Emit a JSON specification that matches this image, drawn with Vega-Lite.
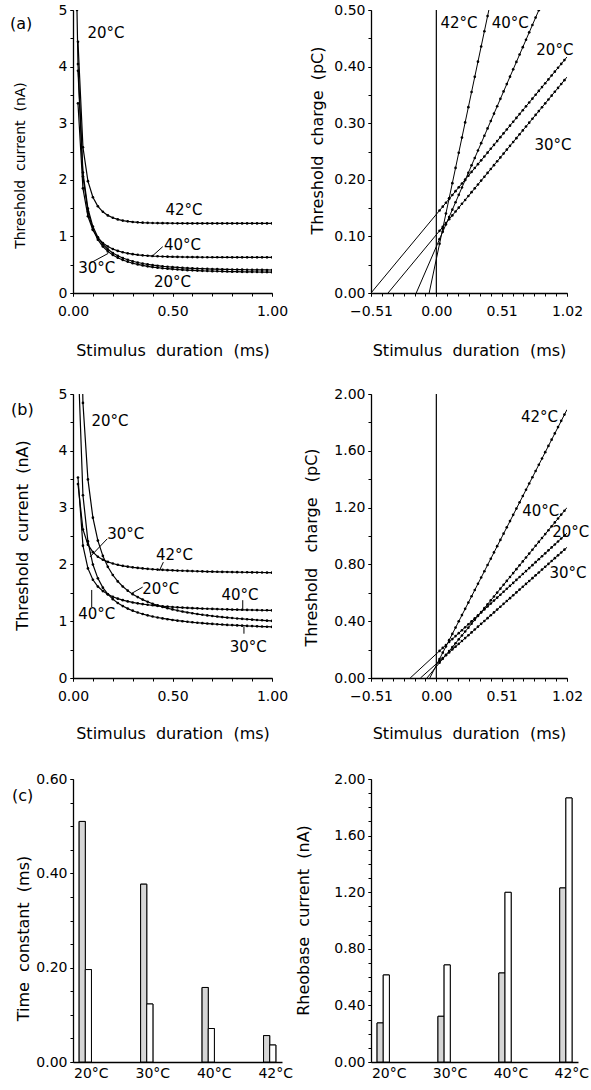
{
"$schema": "https://vega.github.io/schema/vega-lite/v6.json",
"padding": {"left": 10, "top": 3, "right": 0, "bottom": 0},
"background": "white",
"columns": 2,
"spacing": {"row": 101, "column": 89},
"bounds": "flush",
"config": {
  "font": "DejaVu Sans",
  "view": {"stroke": null},
  "axis": {"grid": false, "domainColor": "#000", "domainWidth": 1.3, "tickColor": "#000", "tickSize": 3, "tickWidth": 1, "labelColor": "#000", "labelFontSize": 14, "labelFont": "DejaVu Sans", "titleFont": "DejaVu Sans", "titleColor": "#000", "titleFontWeight": "normal", "titleFontSize": 16, "labelOverlap": false, "labelFlush": false, "labelPadding": 3, "titleBaseline": "middle"},
  "axisX": {"labelPadding": 8},
  "text": {"fontSize": 15, "color": "#000", "font": "DejaVu Sans"},
  "title": {"fontSize": 16, "fontWeight": "normal", "color": "#000", "anchor": "start", "frame": "bounds", "font": "DejaVu Sans", "offset": 0}
},
"datasets": {
"curvesA": [
{"T":"20","t":0.02,"v":5.0},
{"T":"20","t":0.025,"v":4.044},{"T":"20","t":0.05,"v":2.128},{"T":"20","t":0.075,"v":1.49},{"T":"20","t":0.1,"v":1.174},{"T":"20","t":0.125,"v":0.985},{"T":"20","t":0.15,"v":0.861},{"T":"20","t":0.175,"v":0.773},{"T":"20","t":0.2,"v":0.707},{"T":"20","t":0.225,"v":0.657},{"T":"20","t":0.25,"v":0.618},{"T":"20","t":0.275,"v":0.587},{"T":"20","t":0.3,"v":0.561},{"T":"20","t":0.325,"v":0.539},{"T":"20","t":0.35,"v":0.521},{"T":"20","t":0.375,"v":0.506},{"T":"20","t":0.4,"v":0.493},{"T":"20","t":0.425,"v":0.482},{"T":"20","t":0.45,"v":0.472},{"T":"20","t":0.475,"v":0.464},{"T":"20","t":0.5,"v":0.457},{"T":"20","t":0.525,"v":0.451},{"T":"20","t":0.55,"v":0.445},{"T":"20","t":0.575,"v":0.44},{"T":"20","t":0.6,"v":0.436},{"T":"20","t":0.625,"v":0.432},{"T":"20","t":0.65,"v":0.429},{"T":"20","t":0.675,"v":0.426},{"T":"20","t":0.7,"v":0.423},{"T":"20","t":0.725,"v":0.421},{"T":"20","t":0.75,"v":0.418},{"T":"20","t":0.775,"v":0.416},{"T":"20","t":0.8,"v":0.415},{"T":"20","t":0.825,"v":0.413},{"T":"20","t":0.85,"v":0.412},{"T":"20","t":0.875,"v":0.411},{"T":"20","t":0.9,"v":0.41},{"T":"20","t":0.925,"v":0.409},{"T":"20","t":0.95,"v":0.408},{"T":"20","t":0.975,"v":0.407},{"T":"20","t":1,"v":0.406},
{"T":"30","t":0.025,"v":3.926},{"T":"30","t":0.05,"v":2.058},{"T":"30","t":0.075,"v":1.437},{"T":"30","t":0.1,"v":1.127},{"T":"30","t":0.125,"v":0.943},{"T":"30","t":0.15,"v":0.821},{"T":"30","t":0.175,"v":0.735},{"T":"30","t":0.2,"v":0.671},{"T":"30","t":0.225,"v":0.622},{"T":"30","t":0.25,"v":0.583},{"T":"30","t":0.275,"v":0.552},{"T":"30","t":0.3,"v":0.526},{"T":"30","t":0.325,"v":0.505},{"T":"30","t":0.35,"v":0.487},{"T":"30","t":0.375,"v":0.471},{"T":"30","t":0.4,"v":0.458},{"T":"30","t":0.425,"v":0.447},{"T":"30","t":0.45,"v":0.437},{"T":"30","t":0.475,"v":0.429},{"T":"30","t":0.5,"v":0.422},{"T":"30","t":0.525,"v":0.415},{"T":"30","t":0.55,"v":0.409},{"T":"30","t":0.575,"v":0.404},{"T":"30","t":0.6,"v":0.4},{"T":"30","t":0.625,"v":0.396},{"T":"30","t":0.65,"v":0.392},{"T":"30","t":0.675,"v":0.389},{"T":"30","t":0.7,"v":0.386},{"T":"30","t":0.725,"v":0.384},{"T":"30","t":0.75,"v":0.381},{"T":"30","t":0.775,"v":0.379},{"T":"30","t":0.8,"v":0.377},{"T":"30","t":0.825,"v":0.376},{"T":"30","t":0.85,"v":0.374},{"T":"30","t":0.875,"v":0.373},{"T":"30","t":0.9,"v":0.372},{"T":"30","t":0.925,"v":0.371},{"T":"30","t":0.95,"v":0.37},{"T":"30","t":0.975,"v":0.369},{"T":"30","t":1,"v":0.368},
{"T":"40","t":0.025,"v":3.351},{"T":"40","t":0.05,"v":1.849},{"T":"40","t":0.075,"v":1.356},{"T":"40","t":0.1,"v":1.114},{"T":"40","t":0.125,"v":0.974},{"T":"40","t":0.15,"v":0.883},{"T":"40","t":0.175,"v":0.821},{"T":"40","t":0.2,"v":0.777},{"T":"40","t":0.225,"v":0.744},{"T":"40","t":0.25,"v":0.72},{"T":"40","t":0.275,"v":0.701},{"T":"40","t":0.3,"v":0.686},{"T":"40","t":0.325,"v":0.675},{"T":"40","t":0.35,"v":0.666},{"T":"40","t":0.375,"v":0.659},{"T":"40","t":0.4,"v":0.653},{"T":"40","t":0.425,"v":0.649},{"T":"40","t":0.45,"v":0.645},{"T":"40","t":0.475,"v":0.642},{"T":"40","t":0.5,"v":0.64},{"T":"40","t":0.525,"v":0.638},{"T":"40","t":0.55,"v":0.636},{"T":"40","t":0.575,"v":0.635},{"T":"40","t":0.6,"v":0.634},{"T":"40","t":0.625,"v":0.633},{"T":"40","t":0.65,"v":0.632},{"T":"40","t":0.675,"v":0.632},{"T":"40","t":0.7,"v":0.631},{"T":"40","t":0.725,"v":0.631},{"T":"40","t":0.75,"v":0.631},{"T":"40","t":0.775,"v":0.631},{"T":"40","t":0.8,"v":0.63},{"T":"40","t":0.825,"v":0.63},{"T":"40","t":0.85,"v":0.63},{"T":"40","t":0.875,"v":0.63},{"T":"40","t":0.9,"v":0.63},{"T":"40","t":0.925,"v":0.63},{"T":"40","t":0.95,"v":0.63},{"T":"40","t":0.975,"v":0.63},{"T":"40","t":1,"v":0.63},
{"T":"42","t":0.025,"v":4.437},{"T":"42","t":0.05,"v":2.575},{"T":"42","t":0.075,"v":1.976},{"T":"42","t":0.1,"v":1.692},{"T":"42","t":0.125,"v":1.532},{"T":"42","t":0.15,"v":1.435},{"T":"42","t":0.175,"v":1.371},{"T":"42","t":0.2,"v":1.329},{"T":"42","t":0.225,"v":1.3},{"T":"42","t":0.25,"v":1.28},{"T":"42","t":0.275,"v":1.266},{"T":"42","t":0.3,"v":1.255},{"T":"42","t":0.325,"v":1.248},{"T":"42","t":0.35,"v":1.243},{"T":"42","t":0.375,"v":1.24},{"T":"42","t":0.4,"v":1.237},{"T":"42","t":0.425,"v":1.235},{"T":"42","t":0.45,"v":1.234},{"T":"42","t":0.475,"v":1.233},{"T":"42","t":0.5,"v":1.232},{"T":"42","t":0.525,"v":1.231},{"T":"42","t":0.55,"v":1.231},{"T":"42","t":0.575,"v":1.23},{"T":"42","t":0.6,"v":1.23},{"T":"42","t":0.625,"v":1.23},{"T":"42","t":0.65,"v":1.23},{"T":"42","t":0.675,"v":1.23},{"T":"42","t":0.7,"v":1.23},{"T":"42","t":0.725,"v":1.23},{"T":"42","t":0.75,"v":1.23},{"T":"42","t":0.775,"v":1.23},{"T":"42","t":0.8,"v":1.23},{"T":"42","t":0.825,"v":1.23},{"T":"42","t":0.85,"v":1.23},{"T":"42","t":0.875,"v":1.23},{"T":"42","t":0.9,"v":1.23},{"T":"42","t":0.925,"v":1.23},{"T":"42","t":0.95,"v":1.23},{"T":"42","t":0.975,"v":1.23},{"T":"42","t":1,"v":1.23}
],
"curvesB": [
{"T":"20","t":0.025,"v":8.883},{"T":"20","t":0.05,"v":4.843},{"T":"20","t":0.075,"v":3.496},{"T":"20","t":0.1,"v":2.823},{"T":"20","t":0.125,"v":2.419},{"T":"20","t":0.15,"v":2.15},{"T":"20","t":0.175,"v":1.957},{"T":"20","t":0.2,"v":1.813},{"T":"20","t":0.225,"v":1.701},{"T":"20","t":0.25,"v":1.611},{"T":"20","t":0.275,"v":1.538},{"T":"20","t":0.3,"v":1.476},{"T":"20","t":0.325,"v":1.425},{"T":"20","t":0.35,"v":1.38},{"T":"20","t":0.375,"v":1.342},{"T":"20","t":0.4,"v":1.308},{"T":"20","t":0.425,"v":1.278},{"T":"20","t":0.45,"v":1.252},{"T":"20","t":0.475,"v":1.228},{"T":"20","t":0.5,"v":1.207},{"T":"20","t":0.525,"v":1.188},{"T":"20","t":0.55,"v":1.17},{"T":"20","t":0.575,"v":1.154},{"T":"20","t":0.6,"v":1.14},{"T":"20","t":0.625,"v":1.126},{"T":"20","t":0.65,"v":1.114},{"T":"20","t":0.675,"v":1.102},{"T":"20","t":0.7,"v":1.092},{"T":"20","t":0.725,"v":1.082},{"T":"20","t":0.75,"v":1.072},{"T":"20","t":0.775,"v":1.064},{"T":"20","t":0.8,"v":1.056},{"T":"20","t":0.825,"v":1.048},{"T":"20","t":0.85,"v":1.041},{"T":"20","t":0.875,"v":1.034},{"T":"20","t":0.9,"v":1.027},{"T":"20","t":0.925,"v":1.021},{"T":"20","t":0.95,"v":1.016},{"T":"20","t":0.975,"v":1.01},{"T":"20","t":1,"v":1.005},
{"T":"30","t":0.025,"v":5.658},{"T":"30","t":0.05,"v":3.218},{"T":"30","t":0.075,"v":2.405},{"T":"30","t":0.1,"v":1.998},{"T":"30","t":0.125,"v":1.754},{"T":"30","t":0.15,"v":1.591},{"T":"30","t":0.175,"v":1.475},{"T":"30","t":0.2,"v":1.388},{"T":"30","t":0.225,"v":1.32},{"T":"30","t":0.25,"v":1.266},{"T":"30","t":0.275,"v":1.222},{"T":"30","t":0.3,"v":1.185},{"T":"30","t":0.325,"v":1.153},{"T":"30","t":0.35,"v":1.127},{"T":"30","t":0.375,"v":1.103},{"T":"30","t":0.4,"v":1.083},{"T":"30","t":0.425,"v":1.065},{"T":"30","t":0.45,"v":1.049},{"T":"30","t":0.475,"v":1.035},{"T":"30","t":0.5,"v":1.022},{"T":"30","t":0.525,"v":1.01},{"T":"30","t":0.55,"v":1.0},{"T":"30","t":0.575,"v":0.99},{"T":"30","t":0.6,"v":0.981},{"T":"30","t":0.625,"v":0.973},{"T":"30","t":0.65,"v":0.966},{"T":"30","t":0.675,"v":0.959},{"T":"30","t":0.7,"v":0.952},{"T":"30","t":0.725,"v":0.946},{"T":"30","t":0.75,"v":0.941},{"T":"30","t":0.775,"v":0.935},{"T":"30","t":0.8,"v":0.931},{"T":"30","t":0.825,"v":0.926},{"T":"30","t":0.85,"v":0.922},{"T":"30","t":0.875,"v":0.917},{"T":"30","t":0.9,"v":0.914},{"T":"30","t":0.925,"v":0.91},{"T":"30","t":0.95,"v":0.906},{"T":"30","t":0.975,"v":0.903},{"T":"30","t":1,"v":0.9},
{"T":"40","t":0.025,"v":3.53},{"T":"40","t":0.05,"v":2.33},{"T":"40","t":0.075,"v":1.93},{"T":"40","t":0.1,"v":1.73},{"T":"40","t":0.125,"v":1.61},{"T":"40","t":0.15,"v":1.53},{"T":"40","t":0.175,"v":1.473},{"T":"40","t":0.2,"v":1.43},{"T":"40","t":0.225,"v":1.397},{"T":"40","t":0.25,"v":1.37},{"T":"40","t":0.275,"v":1.348},{"T":"40","t":0.3,"v":1.33},{"T":"40","t":0.325,"v":1.315},{"T":"40","t":0.35,"v":1.301},{"T":"40","t":0.375,"v":1.29},{"T":"40","t":0.4,"v":1.28},{"T":"40","t":0.425,"v":1.271},{"T":"40","t":0.45,"v":1.263},{"T":"40","t":0.475,"v":1.256},{"T":"40","t":0.5,"v":1.25},{"T":"40","t":0.525,"v":1.244},{"T":"40","t":0.55,"v":1.239},{"T":"40","t":0.575,"v":1.234},{"T":"40","t":0.6,"v":1.23},{"T":"40","t":0.625,"v":1.226},{"T":"40","t":0.65,"v":1.222},{"T":"40","t":0.675,"v":1.219},{"T":"40","t":0.7,"v":1.216},{"T":"40","t":0.725,"v":1.213},{"T":"40","t":0.75,"v":1.21},{"T":"40","t":0.775,"v":1.207},{"T":"40","t":0.8,"v":1.205},{"T":"40","t":0.825,"v":1.203},{"T":"40","t":0.85,"v":1.201},{"T":"40","t":0.875,"v":1.199},{"T":"40","t":0.9,"v":1.197},{"T":"40","t":0.925,"v":1.195},{"T":"40","t":0.95,"v":1.193},{"T":"40","t":0.975,"v":1.192},{"T":"40","t":1,"v":1.19},
{"T":"42","t":0.025,"v":3.415},{"T":"42","t":0.05,"v":2.615},{"T":"42","t":0.075,"v":2.348},{"T":"42","t":0.1,"v":2.215},{"T":"42","t":0.125,"v":2.135},{"T":"42","t":0.15,"v":2.082},{"T":"42","t":0.175,"v":2.044},{"T":"42","t":0.2,"v":2.015},{"T":"42","t":0.225,"v":1.993},{"T":"42","t":0.25,"v":1.975},{"T":"42","t":0.275,"v":1.96},{"T":"42","t":0.3,"v":1.948},{"T":"42","t":0.325,"v":1.938},{"T":"42","t":0.35,"v":1.929},{"T":"42","t":0.375,"v":1.922},{"T":"42","t":0.4,"v":1.915},{"T":"42","t":0.425,"v":1.909},{"T":"42","t":0.45,"v":1.904},{"T":"42","t":0.475,"v":1.899},{"T":"42","t":0.5,"v":1.895},{"T":"42","t":0.525,"v":1.891},{"T":"42","t":0.55,"v":1.888},{"T":"42","t":0.575,"v":1.885},{"T":"42","t":0.6,"v":1.882},{"T":"42","t":0.625,"v":1.879},{"T":"42","t":0.65,"v":1.877},{"T":"42","t":0.675,"v":1.874},{"T":"42","t":0.7,"v":1.872},{"T":"42","t":0.725,"v":1.87},{"T":"42","t":0.75,"v":1.868},{"T":"42","t":0.775,"v":1.867},{"T":"42","t":0.8,"v":1.865},{"T":"42","t":0.825,"v":1.863},{"T":"42","t":0.85,"v":1.862},{"T":"42","t":0.875,"v":1.861},{"T":"42","t":0.9,"v":1.859},{"T":"42","t":0.925,"v":1.858},{"T":"42","t":0.95,"v":1.857},{"T":"42","t":0.975,"v":1.856},{"T":"42","t":1,"v":1.855}
],
"dotsQA": [
{"T":"20","t":0.025,"v":0.1458},{"T":"20","t":0.05,"v":0.1526},{"T":"20","t":0.075,"v":0.1594},{"T":"20","t":0.1,"v":0.1663},{"T":"20","t":0.125,"v":0.1731},{"T":"20","t":0.15,"v":0.1799},{"T":"20","t":0.175,"v":0.1867},{"T":"20","t":0.2,"v":0.1935},{"T":"20","t":0.225,"v":0.2003},{"T":"20","t":0.25,"v":0.2071},{"T":"20","t":0.275,"v":0.2139},{"T":"20","t":0.3,"v":0.2208},{"T":"20","t":0.325,"v":0.2276},{"T":"20","t":0.35,"v":0.2344},{"T":"20","t":0.375,"v":0.2412},{"T":"20","t":0.4,"v":0.248},{"T":"20","t":0.425,"v":0.2548},{"T":"20","t":0.45,"v":0.2616},{"T":"20","t":0.475,"v":0.2684},{"T":"20","t":0.5,"v":0.2753},{"T":"20","t":0.525,"v":0.2821},{"T":"20","t":0.55,"v":0.2889},{"T":"20","t":0.575,"v":0.2957},{"T":"20","t":0.6,"v":0.3025},{"T":"20","t":0.625,"v":0.3093},{"T":"20","t":0.65,"v":0.3161},{"T":"20","t":0.675,"v":0.3229},{"T":"20","t":0.7,"v":0.3298},{"T":"20","t":0.725,"v":0.3366},{"T":"20","t":0.75,"v":0.3434},{"T":"20","t":0.775,"v":0.3502},{"T":"20","t":0.8,"v":0.357},{"T":"20","t":0.825,"v":0.3638},{"T":"20","t":0.85,"v":0.3706},{"T":"20","t":0.875,"v":0.3774},{"T":"20","t":0.9,"v":0.3843},{"T":"20","t":0.925,"v":0.3911},{"T":"20","t":0.95,"v":0.3979},{"T":"20","t":0.975,"v":0.4047},{"T":"20","t":1,"v":0.4115},
{"T":"30","t":0.025,"v":0.1098},{"T":"30","t":0.05,"v":0.1167},{"T":"30","t":0.075,"v":0.1235},{"T":"30","t":0.1,"v":0.1303},{"T":"30","t":0.125,"v":0.1371},{"T":"30","t":0.15,"v":0.144},{"T":"30","t":0.175,"v":0.1508},{"T":"30","t":0.2,"v":0.1576},{"T":"30","t":0.225,"v":0.1644},{"T":"30","t":0.25,"v":0.1713},{"T":"30","t":0.275,"v":0.1781},{"T":"30","t":0.3,"v":0.1849},{"T":"30","t":0.325,"v":0.1917},{"T":"30","t":0.35,"v":0.1986},{"T":"30","t":0.375,"v":0.2054},{"T":"30","t":0.4,"v":0.2122},{"T":"30","t":0.425,"v":0.219},{"T":"30","t":0.45,"v":0.2259},{"T":"30","t":0.475,"v":0.2327},{"T":"30","t":0.5,"v":0.2395},{"T":"30","t":0.525,"v":0.2463},{"T":"30","t":0.55,"v":0.2532},{"T":"30","t":0.575,"v":0.26},{"T":"30","t":0.6,"v":0.2668},{"T":"30","t":0.625,"v":0.2736},{"T":"30","t":0.65,"v":0.2805},{"T":"30","t":0.675,"v":0.2873},{"T":"30","t":0.7,"v":0.2941},{"T":"30","t":0.725,"v":0.3009},{"T":"30","t":0.75,"v":0.3078},{"T":"30","t":0.775,"v":0.3146},{"T":"30","t":0.8,"v":0.3214},{"T":"30","t":0.825,"v":0.3282},{"T":"30","t":0.85,"v":0.3351},{"T":"30","t":0.875,"v":0.3419},{"T":"30","t":0.9,"v":0.3487},{"T":"30","t":0.925,"v":0.3555},{"T":"30","t":0.95,"v":0.3624},{"T":"30","t":0.975,"v":0.3692},{"T":"30","t":1,"v":0.376},
{"T":"40","t":0.025,"v":0.0951},{"T":"40","t":0.05,"v":0.1081},{"T":"40","t":0.075,"v":0.1212},{"T":"40","t":0.1,"v":0.1342},{"T":"40","t":0.125,"v":0.1473},{"T":"40","t":0.15,"v":0.1603},{"T":"40","t":0.175,"v":0.1734},{"T":"40","t":0.2,"v":0.1864},{"T":"40","t":0.225,"v":0.1995},{"T":"40","t":0.25,"v":0.2125},{"T":"40","t":0.275,"v":0.2256},{"T":"40","t":0.3,"v":0.2386},{"T":"40","t":0.325,"v":0.2517},{"T":"40","t":0.35,"v":0.2647},{"T":"40","t":0.375,"v":0.2778},{"T":"40","t":0.4,"v":0.2908},{"T":"40","t":0.425,"v":0.3039},{"T":"40","t":0.45,"v":0.3169},{"T":"40","t":0.475,"v":0.33},{"T":"40","t":0.5,"v":0.343},{"T":"40","t":0.525,"v":0.3561},{"T":"40","t":0.55,"v":0.3691},{"T":"40","t":0.575,"v":0.3822},{"T":"40","t":0.6,"v":0.3952},{"T":"40","t":0.625,"v":0.4083},{"T":"40","t":0.65,"v":0.4213},{"T":"40","t":0.675,"v":0.4344},{"T":"40","t":0.7,"v":0.4474},{"T":"40","t":0.725,"v":0.4605},{"T":"40","t":0.75,"v":0.4735},{"T":"40","t":0.775,"v":0.4866},{"T":"40","t":0.8,"v":0.4996},
{"T":"42","t":0.025,"v":0.0868},{"T":"42","t":0.05,"v":0.1137},{"T":"42","t":0.075,"v":0.1405},{"T":"42","t":0.1,"v":0.1673},{"T":"42","t":0.125,"v":0.1941},{"T":"42","t":0.15,"v":0.221},{"T":"42","t":0.175,"v":0.2478},{"T":"42","t":0.2,"v":0.2746},{"T":"42","t":0.225,"v":0.3014},{"T":"42","t":0.25,"v":0.3283},{"T":"42","t":0.275,"v":0.3551},{"T":"42","t":0.3,"v":0.3819},{"T":"42","t":0.325,"v":0.4087},{"T":"42","t":0.35,"v":0.4356},{"T":"42","t":0.375,"v":0.4624},{"T":"42","t":0.4,"v":0.4892}
],
"linesQA": [
{"T":"20","t":-0.51,"v":0},{"T":"20","t":1.02,"v":0.417},
{"T":"30","t":-0.377,"v":0},{"T":"30","t":1.02,"v":0.3815},
{"T":"40","t":-0.157,"v":0},{"T":"40","t":0.83,"v":0.5153},
{"T":"42","t":-0.056,"v":0},{"T":"42","t":0.42,"v":0.5107}
],
"dotsQB": [
{"T":"20","t":0.025,"v":0.1908},{"T":"20","t":0.05,"v":0.2117},{"T":"20","t":0.075,"v":0.2325},{"T":"20","t":0.1,"v":0.2533},{"T":"20","t":0.125,"v":0.2741},{"T":"20","t":0.15,"v":0.295},{"T":"20","t":0.175,"v":0.3158},{"T":"20","t":0.2,"v":0.3366},{"T":"20","t":0.225,"v":0.3574},{"T":"20","t":0.25,"v":0.3783},{"T":"20","t":0.275,"v":0.3991},{"T":"20","t":0.3,"v":0.4199},{"T":"20","t":0.325,"v":0.4407},{"T":"20","t":0.35,"v":0.4616},{"T":"20","t":0.375,"v":0.4824},{"T":"20","t":0.4,"v":0.5032},{"T":"20","t":0.425,"v":0.524},{"T":"20","t":0.45,"v":0.5449},{"T":"20","t":0.475,"v":0.5657},{"T":"20","t":0.5,"v":0.5865},{"T":"20","t":0.525,"v":0.6073},{"T":"20","t":0.55,"v":0.6282},{"T":"20","t":0.575,"v":0.649},{"T":"20","t":0.6,"v":0.6698},{"T":"20","t":0.625,"v":0.6906},{"T":"20","t":0.65,"v":0.7115},{"T":"20","t":0.675,"v":0.7323},{"T":"20","t":0.7,"v":0.7531},{"T":"20","t":0.725,"v":0.7739},{"T":"20","t":0.75,"v":0.7948},{"T":"20","t":0.775,"v":0.8156},{"T":"20","t":0.8,"v":0.8364},{"T":"20","t":0.825,"v":0.8572},{"T":"20","t":0.85,"v":0.8781},{"T":"20","t":0.875,"v":0.8989},{"T":"20","t":0.9,"v":0.9197},{"T":"20","t":0.925,"v":0.9405},{"T":"20","t":0.95,"v":0.9614},{"T":"20","t":0.975,"v":0.9822},{"T":"20","t":1,"v":1.003},
{"T":"30","t":0.025,"v":0.1201},{"T":"30","t":0.05,"v":0.1402},{"T":"30","t":0.075,"v":0.1603},{"T":"30","t":0.1,"v":0.1804},{"T":"30","t":0.125,"v":0.2005},{"T":"30","t":0.15,"v":0.2206},{"T":"30","t":0.175,"v":0.2407},{"T":"30","t":0.2,"v":0.2608},{"T":"30","t":0.225,"v":0.2809},{"T":"30","t":0.25,"v":0.301},{"T":"30","t":0.275,"v":0.3211},{"T":"30","t":0.3,"v":0.3412},{"T":"30","t":0.325,"v":0.3613},{"T":"30","t":0.35,"v":0.3814},{"T":"30","t":0.375,"v":0.4015},{"T":"30","t":0.4,"v":0.4216},{"T":"30","t":0.425,"v":0.4417},{"T":"30","t":0.45,"v":0.4618},{"T":"30","t":0.475,"v":0.4819},{"T":"30","t":0.5,"v":0.502},{"T":"30","t":0.525,"v":0.5221},{"T":"30","t":0.55,"v":0.5422},{"T":"30","t":0.575,"v":0.5623},{"T":"30","t":0.6,"v":0.5824},{"T":"30","t":0.625,"v":0.6025},{"T":"30","t":0.65,"v":0.6226},{"T":"30","t":0.675,"v":0.6427},{"T":"30","t":0.7,"v":0.6628},{"T":"30","t":0.725,"v":0.6829},{"T":"30","t":0.75,"v":0.703},{"T":"30","t":0.775,"v":0.7231},{"T":"30","t":0.8,"v":0.7432},{"T":"30","t":0.825,"v":0.7633},{"T":"30","t":0.85,"v":0.7834},{"T":"30","t":0.875,"v":0.8035},{"T":"30","t":0.9,"v":0.8236},{"T":"30","t":0.925,"v":0.8437},{"T":"30","t":0.95,"v":0.8638},{"T":"30","t":0.975,"v":0.8839},{"T":"30","t":1,"v":0.904},
{"T":"40","t":0.025,"v":0.1075},{"T":"40","t":0.05,"v":0.1349},{"T":"40","t":0.075,"v":0.1624},{"T":"40","t":0.1,"v":0.1898},{"T":"40","t":0.125,"v":0.2173},{"T":"40","t":0.15,"v":0.2447},{"T":"40","t":0.175,"v":0.2722},{"T":"40","t":0.2,"v":0.2996},{"T":"40","t":0.225,"v":0.3271},{"T":"40","t":0.25,"v":0.3545},{"T":"40","t":0.275,"v":0.382},{"T":"40","t":0.3,"v":0.4094},{"T":"40","t":0.325,"v":0.4369},{"T":"40","t":0.35,"v":0.4643},{"T":"40","t":0.375,"v":0.4918},{"T":"40","t":0.4,"v":0.5192},{"T":"40","t":0.425,"v":0.5467},{"T":"40","t":0.45,"v":0.5741},{"T":"40","t":0.475,"v":0.6016},{"T":"40","t":0.5,"v":0.629},{"T":"40","t":0.525,"v":0.6565},{"T":"40","t":0.55,"v":0.6839},{"T":"40","t":0.575,"v":0.7114},{"T":"40","t":0.6,"v":0.7388},{"T":"40","t":0.625,"v":0.7663},{"T":"40","t":0.65,"v":0.7937},{"T":"40","t":0.675,"v":0.8212},{"T":"40","t":0.7,"v":0.8486},{"T":"40","t":0.725,"v":0.8761},{"T":"40","t":0.75,"v":0.9035},{"T":"40","t":0.775,"v":0.931},{"T":"40","t":0.8,"v":0.9584},{"T":"40","t":0.825,"v":0.9859},{"T":"40","t":0.85,"v":1.0133},{"T":"40","t":0.875,"v":1.0408},{"T":"40","t":0.9,"v":1.0682},{"T":"40","t":0.925,"v":1.0957},{"T":"40","t":0.95,"v":1.1231},{"T":"40","t":0.975,"v":1.1506},{"T":"40","t":1,"v":1.178},
{"T":"42","t":0.025,"v":0.1341},{"T":"42","t":0.05,"v":0.1783},{"T":"42","t":0.075,"v":0.2224},{"T":"42","t":0.1,"v":0.2665},{"T":"42","t":0.125,"v":0.3106},{"T":"42","t":0.15,"v":0.3548},{"T":"42","t":0.175,"v":0.3989},{"T":"42","t":0.2,"v":0.443},{"T":"42","t":0.225,"v":0.4871},{"T":"42","t":0.25,"v":0.5313},{"T":"42","t":0.275,"v":0.5754},{"T":"42","t":0.3,"v":0.6195},{"T":"42","t":0.325,"v":0.6636},{"T":"42","t":0.35,"v":0.7078},{"T":"42","t":0.375,"v":0.7519},{"T":"42","t":0.4,"v":0.796},{"T":"42","t":0.425,"v":0.8401},{"T":"42","t":0.45,"v":0.8843},{"T":"42","t":0.475,"v":0.9284},{"T":"42","t":0.5,"v":0.9725},{"T":"42","t":0.525,"v":1.0166},{"T":"42","t":0.55,"v":1.0608},{"T":"42","t":0.575,"v":1.1049},{"T":"42","t":0.6,"v":1.149},{"T":"42","t":0.625,"v":1.1931},{"T":"42","t":0.65,"v":1.2373},{"T":"42","t":0.675,"v":1.2814},{"T":"42","t":0.7,"v":1.3255},{"T":"42","t":0.725,"v":1.3696},{"T":"42","t":0.75,"v":1.4138},{"T":"42","t":0.775,"v":1.4579},{"T":"42","t":0.8,"v":1.502},{"T":"42","t":0.825,"v":1.5461},{"T":"42","t":0.85,"v":1.5903},{"T":"42","t":0.875,"v":1.6344},{"T":"42","t":0.9,"v":1.6785},{"T":"42","t":0.925,"v":1.7226},{"T":"42","t":0.95,"v":1.7668},{"T":"42","t":0.975,"v":1.8109},{"T":"42","t":1,"v":1.855}
],
"linesQB": [
{"T":"20","t":-0.204,"v":0},{"T":"20","t":1.02,"v":1.0197},
{"T":"30","t":-0.124,"v":0},{"T":"30","t":1.02,"v":0.92},
{"T":"40","t":-0.073,"v":0},{"T":"40","t":1.02,"v":1.2},
{"T":"42","t":-0.051,"v":0},{"T":"42","t":1.02,"v":1.89}
],
"labA": [
{"label":"20°C","t":0.166,"v":4.59},{"label":"42°C","t":0.558,"v":1.47},{"label":"40°C","t":0.55,"v":0.85},{"label":"30°C","t":0.119,"v":0.44},{"label":"20°C","t":0.5,"v":0.19}
],
"leadA": [
{"t":0.451,"v":0.818,"t2":0.395,"v2":0.642},{"t":0.085,"v":0.525,"t2":0.177,"v2":0.7}
],
"labB": [
{"label":"20°C","t":0.186,"v":4.53},{"label":"30°C","t":0.265,"v":2.54},{"label":"42°C","t":0.51,"v":2.16},{"label":"20°C","t":0.441,"v":1.57},{"label":"40°C","t":0.839,"v":1.46},{"label":"40°C","t":0.119,"v":1.135},{"label":"30°C","t":0.881,"v":0.55}
],
"leadB": [
{"t":0.172,"v":2.45,"t2":0.085,"v2":2.13},{"t":0.454,"v":2.04,"t2":0.434,"v2":1.89},{"t":0.35,"v":1.6,"t2":0.295,"v2":1.49},{"t":0.853,"v":1.37,"t2":0.853,"v2":1.21},{"t":0.094,"v":1.25,"t2":0.094,"v2":1.55},{"t":0.859,"v":0.78,"t2":0.859,"v2":0.9}
],
"labQA": [
{"label":"42°C","t":0.177,"v":0.4775},{"label":"40°C","t":0.577,"v":0.4775},{"label":"20°C","t":0.925,"v":0.429},{"label":"30°C","t":0.911,"v":0.261}
],
"labQB": [
{"label":"42°C","t":0.805,"v":1.84},{"label":"40°C","t":0.815,"v":1.173},{"label":"20°C","t":1.049,"v":1.03},{"label":"30°C","t":1.028,"v":0.74}
],
"bars": [
{"T":"20°C","g":"a","tau":0.51,"rh":0.276},{"T":"20°C","g":"b","tau":0.196,"rh":0.615},
{"T":"30°C","g":"a","tau":0.377,"rh":0.323},{"T":"30°C","g":"b","tau":0.123,"rh":0.686},
{"T":"40°C","g":"a","tau":0.158,"rh":0.629},{"T":"40°C","g":"b","tau":0.071,"rh":1.199},
{"T":"42°C","g":"a","tau":0.056,"rh":1.23},{"T":"42°C","g":"b","tau":0.036,"rh":1.866}
],
"zero": [{"t":0}]
},
"concat": [
{
 "width": 199, "height": 283,
 "title": {"text": "(a)", "dx": -3, "dy": 33},
 "resolve": {"axis": {"x": "independent", "y": "independent"}},
 "layer": [
  {"data": {"name": "curvesA"}, "mark": {"type": "line", "color": "#000", "strokeWidth": 1.2, "clip": true},
   "encoding": {
    "x": {"field": "t", "type": "quantitative", "scale": {"domain": [0, 1], "nice": false, "zero": false},
          "axis": {"orient": "bottom", "title": "Stimulus\u00a0\u00a0duration\u00a0\u00a0(ms)", "values": [0, 0.5, 1], "format": ".2f", "titleY": 57}},
    "y": {"field": "v", "type": "quantitative", "scale": {"domain": [0, 5], "nice": false},
          "axis": {"orient": "left", "title": "Threshold\u00a0\u00a0current\u00a0\u00a0(nA)", "titleFontSize": 14, "values": [0,1,2,3,4,5], "format": "d", "titleX": -53, "titleY": 155}},
    "detail": {"field": "T"}}},
  {"data": {"name": "curvesA"}, "mark": {"type": "circle", "color": "#000", "size": 7, "opacity": 1, "clip": true},
   "encoding": {"x": {"field": "t", "type": "quantitative", "scale": {"domain": [0, 1], "nice": false, "zero": false}, "axis": {"orient": "bottom", "values": [0,0.1,0.2,0.3,0.4,0.5,0.6,0.7,0.8,0.9,1], "labels": false, "domain": false, "title": null}},
                "y": {"field": "v", "type": "quantitative", "scale": {"domain": [0, 5], "nice": false}, "axis": {"orient": "left", "values": [0,0.5,1,1.5,2,2.5,3,3.5,4,4.5,5], "labels": false, "domain": false, "title": null}}}},
  {"data": {"name": "leadA"}, "mark": {"type": "rule", "color": "#000", "strokeWidth": 1},
   "encoding": {"x": {"field": "t", "type": "quantitative", "scale": {"domain": [0, 1], "nice": false, "zero": false}, "axis": null}, "y": {"field": "v", "type": "quantitative", "scale": {"domain": [0, 5], "nice": false}, "axis": null}, "x2": {"field": "t2"}, "y2": {"field": "v2"}}},
  {"data": {"name": "labA"}, "mark": {"type": "text"},
   "encoding": {"x": {"field": "t", "type": "quantitative", "scale": {"domain": [0, 1], "nice": false, "zero": false}, "axis": null}, "y": {"field": "v", "type": "quantitative", "scale": {"domain": [0, 5], "nice": false}, "axis": null}, "text": {"field": "label"}}}
 ]
},
{
 "width": 196, "height": 283,
 "resolve": {"axis": {"x": "independent", "y": "independent"}},
 "layer": [
  {"data": {"name": "zero"}, "mark": {"type": "rule", "color": "#000", "strokeWidth": 1.2},
   "encoding": {"x": {"field": "t", "type": "quantitative", "scale": {"domain": [-0.51, 1.02], "nice": false, "zero": false},
          "axis": {"orient": "bottom", "title": "Stimulus\u00a0\u00a0duration\u00a0\u00a0(ms)", "values": [-0.51, 0, 0.51, 1.02], "format": ".2f", "titleY": 57}}}},
  {"data": {"name": "linesQA"}, "mark": {"type": "line", "color": "#000", "strokeWidth": 1, "clip": true},
   "encoding": {
    "x": {"field": "t", "type": "quantitative", "scale": {"domain": [-0.51, 1.02], "nice": false, "zero": false}, "axis": null},
    "y": {"field": "v", "type": "quantitative", "scale": {"domain": [0, 0.5], "nice": false},
          "axis": {"orient": "left", "title": "Threshold\u00a0\u00a0charge\u00a0\u00a0(pC)", "values": [0,0.1,0.2,0.3,0.4,0.5], "format": ".2f", "titleX": -54, "titleY": 130}},
    "detail": {"field": "T"}}},
  {"data": {"name": "dotsQA"}, "mark": {"type": "circle", "color": "#000", "size": 7, "opacity": 1, "clip": true},
   "encoding": {"x": {"field": "t", "type": "quantitative", "scale": {"domain": [-0.51, 1.02], "nice": false, "zero": false}, "axis": {"orient": "bottom", "values": [-0.51,-0.425,-0.34,-0.255,-0.17,-0.085,0,0.085,0.17,0.255,0.34,0.425,0.51,0.595,0.68,0.765,0.85,0.935,1.02], "labels": false, "domain": false, "title": null}},
                "y": {"field": "v", "type": "quantitative", "scale": {"domain": [0, 0.5], "nice": false}, "axis": {"orient": "left", "values": [0,0.05,0.1,0.15,0.2,0.25,0.3,0.35,0.4,0.45,0.5], "labels": false, "domain": false, "title": null}}}},
  {"data": {"name": "labQA"}, "mark": {"type": "text"},
   "encoding": {"x": {"field": "t", "type": "quantitative", "scale": {"domain": [-0.51, 1.02], "nice": false, "zero": false}, "axis": null}, "y": {"field": "v", "type": "quantitative", "scale": {"domain": [0, 0.5], "nice": false}, "axis": null}, "text": {"field": "label"}}}
 ]
},
{
 "width": 199, "height": 284,
 "title": {"text": "(b)", "dx": -3, "dy": 35},
 "resolve": {"axis": {"x": "independent", "y": "independent"}},
 "layer": [
  {"data": {"name": "curvesB"}, "mark": {"type": "line", "color": "#000", "strokeWidth": 1.2, "clip": true},
   "encoding": {
    "x": {"field": "t", "type": "quantitative", "scale": {"domain": [0, 1], "nice": false, "zero": false},
          "axis": {"orient": "bottom", "title": "Stimulus\u00a0\u00a0duration\u00a0\u00a0(ms)", "values": [0, 0.5, 1], "format": ".2f", "titleY": 55}},
    "y": {"field": "v", "type": "quantitative", "scale": {"domain": [0, 5], "nice": false},
          "axis": {"orient": "left", "title": "Threshold\u00a0\u00a0current\u00a0\u00a0(nA)", "values": [0,1,2,3,4,5], "format": "d", "titleX": -51, "titleY": 141}},
    "detail": {"field": "T"}}},
  {"data": {"name": "curvesB"}, "mark": {"type": "circle", "color": "#000", "size": 7, "opacity": 1, "clip": true},
   "encoding": {"x": {"field": "t", "type": "quantitative", "scale": {"domain": [0, 1], "nice": false, "zero": false}, "axis": {"orient": "bottom", "values": [0,0.1,0.2,0.3,0.4,0.5,0.6,0.7,0.8,0.9,1], "labels": false, "domain": false, "title": null}},
                "y": {"field": "v", "type": "quantitative", "scale": {"domain": [0, 5], "nice": false}, "axis": {"orient": "left", "values": [0,0.5,1,1.5,2,2.5,3,3.5,4,4.5,5], "labels": false, "domain": false, "title": null}}}},
  {"data": {"name": "leadB"}, "mark": {"type": "rule", "color": "#000", "strokeWidth": 1},
   "encoding": {"x": {"field": "t", "type": "quantitative", "scale": {"domain": [0, 1], "nice": false, "zero": false}, "axis": null}, "y": {"field": "v", "type": "quantitative", "scale": {"domain": [0, 5], "nice": false}, "axis": null}, "x2": {"field": "t2"}, "y2": {"field": "v2"}}},
  {"data": {"name": "labB"}, "mark": {"type": "text"},
   "encoding": {"x": {"field": "t", "type": "quantitative", "scale": {"domain": [0, 1], "nice": false, "zero": false}, "axis": null}, "y": {"field": "v", "type": "quantitative", "scale": {"domain": [0, 5], "nice": false}, "axis": null}, "text": {"field": "label"}}}
 ]
},
{
 "width": 196, "height": 284,
 "resolve": {"axis": {"x": "independent", "y": "independent"}},
 "layer": [
  {"data": {"name": "zero"}, "mark": {"type": "rule", "color": "#000", "strokeWidth": 1.2},
   "encoding": {"x": {"field": "t", "type": "quantitative", "scale": {"domain": [-0.51, 1.02], "nice": false, "zero": false},
          "axis": {"orient": "bottom", "title": "Stimulus\u00a0\u00a0duration\u00a0\u00a0(ms)", "values": [-0.51, 0, 0.51, 1.02], "format": ".2f", "titleY": 55}}}},
  {"data": {"name": "linesQB"}, "mark": {"type": "line", "color": "#000", "strokeWidth": 1, "clip": true},
   "encoding": {
    "x": {"field": "t", "type": "quantitative", "scale": {"domain": [-0.51, 1.02], "nice": false, "zero": false}, "axis": null},
    "y": {"field": "v", "type": "quantitative", "scale": {"domain": [0, 2], "nice": false},
          "axis": {"orient": "left", "title": "Threshold\u00a0\u00a0\u00a0charge\u00a0\u00a0\u00a0(pC)", "values": [0,0.4,0.8,1.2,1.6,2], "format": ".2f", "titleX": -60, "titleY": 153}},
    "detail": {"field": "T"}}},
  {"data": {"name": "dotsQB"}, "mark": {"type": "circle", "color": "#000", "size": 7, "opacity": 1, "clip": true},
   "encoding": {"x": {"field": "t", "type": "quantitative", "scale": {"domain": [-0.51, 1.02], "nice": false, "zero": false}, "axis": {"orient": "bottom", "values": [-0.51,-0.425,-0.34,-0.255,-0.17,-0.085,0,0.085,0.17,0.255,0.34,0.425,0.51,0.595,0.68,0.765,0.85,0.935,1.02], "labels": false, "domain": false, "title": null}},
                "y": {"field": "v", "type": "quantitative", "scale": {"domain": [0, 2], "nice": false}, "axis": {"orient": "left", "values": [0,0.2,0.4,0.6,0.8,1,1.2,1.4,1.6,1.8,2], "labels": false, "domain": false, "title": null}}}},
  {"data": {"name": "labQB"}, "mark": {"type": "text"},
   "encoding": {"x": {"field": "t", "type": "quantitative", "scale": {"domain": [-0.51, 1.02], "nice": false, "zero": false}, "axis": null}, "y": {"field": "v", "type": "quantitative", "scale": {"domain": [0, 2], "nice": false}, "axis": null}, "text": {"field": "label"}}}
 ]
},
{
 "width": 209, "height": 283,
 "title": {"text": "(c)", "dx": -3, "dy": 36},
 "data": {"name": "bars"},
 "resolve": {"axis": {"y": "independent"}},
 "layer": [
  {"mark": {"type": "bar", "stroke": "#000", "strokeWidth": 1},
   "encoding": {
    "x": {"field": "T", "type": "nominal", "sort": ["20°C","30°C","40°C","42°C"], "scale": {"paddingInner": 0.8, "paddingOuter": 0.1},
          "axis": {"title": null, "ticks": false, "labelAngle": 0, "labelPadding": 4, "labelOffset": 6, "labelFontSize": 14}},
    "xOffset": {"field": "g", "type": "nominal", "sort": ["a","b"]},
    "y": {"field": "tau", "type": "quantitative", "scale": {"domain": [0, 0.6], "nice": false},
          "axis": {"orient": "left", "title": "Time\u00a0\u00a0constant\u00a0\u00a0(ms)", "values": [0,0.2,0.4,0.6], "format": ".2f", "titleX": -50, "titleY": 159}},
    "fill": {"field": "g", "type": "nominal", "scale": {"domain": ["a","b"], "range": ["#d6d6d6", "#ffffff"]}, "legend": null}}},
  {"mark": {"type": "bar", "stroke": "#000", "strokeWidth": 1},
   "encoding": {
    "x": {"field": "T", "type": "nominal", "sort": ["20°C","30°C","40°C","42°C"]},
    "xOffset": {"field": "g", "type": "nominal", "sort": ["a","b"]},
    "y": {"field": "tau", "type": "quantitative", "scale": {"domain": [0, 0.6], "nice": false},
          "axis": {"orient": "left", "values": [0,0.05,0.1,0.15,0.2,0.25,0.3,0.35,0.4,0.45,0.5,0.55,0.6], "labels": false, "domain": false, "title": null}},
    "fill": {"field": "g", "type": "nominal", "legend": null}}}
 ]
},
{
 "width": 207, "height": 283,
 "data": {"name": "bars"},
 "resolve": {"axis": {"y": "independent"}},
 "layer": [
  {"mark": {"type": "bar", "stroke": "#000", "strokeWidth": 1},
   "encoding": {
    "x": {"field": "T", "type": "nominal", "sort": ["20°C","30°C","40°C","42°C"], "scale": {"paddingInner": 0.8, "paddingOuter": 0.1},
          "axis": {"title": null, "ticks": false, "labelAngle": 0, "labelPadding": 4, "labelOffset": 6, "labelFontSize": 14}},
    "xOffset": {"field": "g", "type": "nominal", "sort": ["a","b"]},
    "y": {"field": "rh", "type": "quantitative", "scale": {"domain": [0, 2], "nice": false},
          "axis": {"orient": "left", "title": "Rheobase\u00a0\u00a0current\u00a0\u00a0(nA)", "values": [0,0.4,0.8,1.2,1.6,2], "format": ".2f", "titleX": -68, "titleY": 141}},
    "fill": {"field": "g", "type": "nominal", "scale": {"domain": ["a","b"], "range": ["#d6d6d6", "#ffffff"]}, "legend": null}}},
  {"mark": {"type": "bar", "stroke": "#000", "strokeWidth": 1},
   "encoding": {
    "x": {"field": "T", "type": "nominal", "sort": ["20°C","30°C","40°C","42°C"]},
    "xOffset": {"field": "g", "type": "nominal", "sort": ["a","b"]},
    "y": {"field": "rh", "type": "quantitative", "scale": {"domain": [0, 2], "nice": false},
          "axis": {"orient": "left", "values": [0,0.1,0.2,0.3,0.4,0.5,0.6,0.7,0.8,0.9,1,1.1,1.2,1.3,1.4,1.5,1.6,1.7,1.8,1.9,2], "labels": false, "domain": false, "title": null}},
    "fill": {"field": "g", "type": "nominal", "legend": null}}}
 ]
}
]
}
